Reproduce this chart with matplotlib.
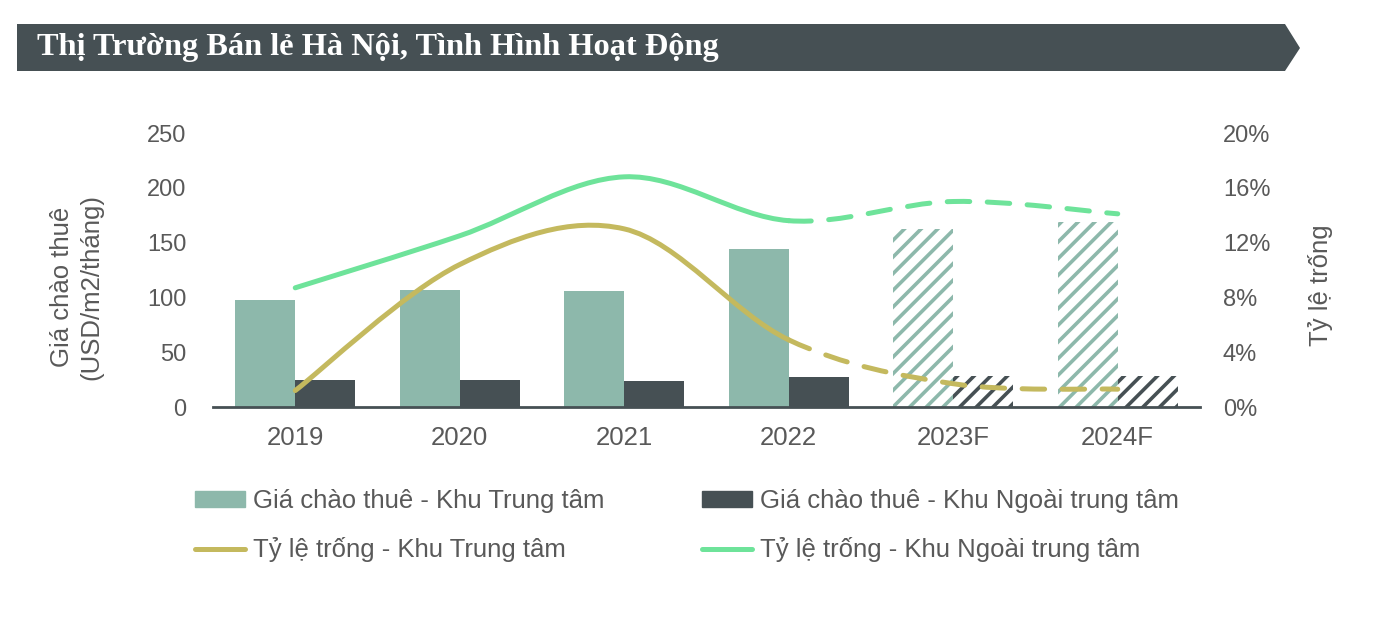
import matplotlib
matplotlib.use('Agg')
import matplotlib.pyplot as plt
import numpy as np
from matplotlib.path import Path
from matplotlib.patches import PathPatch, Polygon, Patch
from matplotlib.lines import Line2D

years = ['2019', '2020', '2021', '2022', '2023F', '2024F']
rent_cbd = [98, 107, 106, 144, 162, 169]
rent_non_cbd = [25, 25, 24, 27, 28, 28]
vacancy_cbd = [1.2, 10.4, 13.0, 4.9, 1.7, 1.3]
vacancy_non_cbd = [8.7, 12.5, 16.8, 13.6, 15.0, 14.1]
n_actual = 4  # first forecast year index

c_cbd = '#8db8ab'
c_out = '#465054'
c_gold = '#c4b95e'
c_green = '#6ee39a'
c_text = '#595959'

plt.rcParams['font.family'] = ['Liberation Sans', 'DejaVu Sans']
plt.rcParams['hatch.linewidth'] = 2.6

fig = plt.figure(figsize=(13.78, 6.4), dpi=100)
W, H = 1378, 640

# title banner
banner = Polygon([(17 / W, 1 - 24 / H), (1285 / W, 1 - 24 / H), (1300 / W, 1 - 48 / H),
                  (1285 / W, 1 - 71 / H), (17 / W, 1 - 71 / H)],
                 closed=True, transform=fig.transFigure, facecolor=c_out, edgecolor='none')
fig.patches.append(banner)
fig.text(37 / W, 1 - 48 / H, 'Thị Trường Bán lẻ Hà Nội, Tình Hình Hoạt Động',
         family=['Liberation Serif', 'DejaVu Serif'], weight='bold', fontsize=23.3,
         color='white', va='center', ha='left')

ax = fig.add_axes([213 / W, 1 - 407 / H, 987 / W, 274 / H])
ax2 = ax.twinx()

x = np.arange(len(years))
w = 0.365
for i in x:
    if i < n_actual:
        ax.bar(i - w / 2, rent_cbd[i], w, color=c_cbd)
        ax.bar(i + w / 2, rent_non_cbd[i], w, color=c_out)
    else:
        ax.bar(i - w / 2, rent_cbd[i], w, color='white', edgecolor=c_cbd, hatch='//', linewidth=0)
        ax.bar(i + w / 2, rent_non_cbd[i], w, color='white', edgecolor=c_out, hatch='//', linewidth=0)

ax.set_xlim(-0.5, len(years) - 0.5)
ax.set_ylim(0, 250)
ax.set_yticks(range(0, 251, 50))
ax.set_xticks(x)
ax.set_xticklabels(years)
for a in (ax, ax2):
    for s in a.spines.values():
        s.set_visible(False)
ax.spines['bottom'].set_visible(True)
ax.spines['bottom'].set_color(c_out)
ax.spines['bottom'].set_linewidth(2)
ax.tick_params(axis='y', length=0, pad=19, labelsize=17, labelcolor=c_text)
ax.tick_params(axis='x', length=0, pad=14, labelsize=18.5, labelcolor=c_text)
ax.set_ylabel('Giá chào thuê\n(USD/m2/tháng)', fontsize=18.5, color=c_text, linespacing=1.3)
ax.yaxis.set_label_coords(-0.111, 0.438)

ax2.set_ylim(0, 20)
ax2.set_yticks(range(0, 21, 4))
ax2.set_yticklabels([f'{v}%' for v in range(0, 21, 4)])
ax2.tick_params(axis='y', length=0, pad=16.5, labelsize=17, labelcolor=c_text)
ax2.set_ylabel('Tỷ lệ trống', fontsize=18.5, color=c_text)
ax2.yaxis.set_label_coords(1.109, 0.445)


def smooth_segments(xs, ys):
    # Excel-like smoothing: cubic Bezier with Catmull-Rom control points
    pts = list(zip(xs, ys))
    segs = []
    for k in range(len(pts) - 1):
        p0 = pts[k - 1] if k > 0 else pts[k]
        p1 = pts[k]
        p2 = pts[k + 1]
        p3 = pts[k + 2] if k + 2 < len(pts) else pts[k + 1]
        c1 = (p1[0] + (p2[0] - p0[0]) / 6, p1[1] + (p2[1] - p0[1]) / 6)
        c2 = (p2[0] - (p3[0] - p1[0]) / 6, p2[1] - (p3[1] - p1[1]) / 6)
        segs.append((p1, c1, c2, p2))
    return segs


def draw_curve(a, ys, color):
    segs = smooth_segments(list(x), ys)
    for part, ls in ((segs[:n_actual - 1], '-'), (segs[n_actual - 1:], (0, (4.5, 3.5)))):
        verts, codes = [part[0][0]], [Path.MOVETO]
        for s in part:
            verts += [s[1], s[2], s[3]]
            codes += [Path.CURVE4] * 3
        a.add_patch(PathPatch(Path(verts, codes), fill=False, edgecolor=color,
                              linewidth=3.6, linestyle=ls, capstyle='round', joinstyle='round'))


draw_curve(ax2, vacancy_cbd, c_gold)
draw_curve(ax2, vacancy_non_cbd, c_green)

handles = [Patch(color=c_cbd), Line2D([], [], color=c_gold, lw=3.6, solid_capstyle='round'),
           Patch(color=c_out), Line2D([], [], color=c_green, lw=3.6, solid_capstyle='round')]
labels = ['Giá chào thuê - Khu Trung tâm', 'Tỷ lệ trống - Khu Trung tâm',
          'Giá chào thuê - Khu Ngoài trung tâm', 'Tỷ lệ trống - Khu Ngoài trung tâm']
fig.legend(handles, labels, ncol=2, loc='upper left', bbox_to_anchor=(195 / W, 1 - 489 / H),
           frameon=False, fontsize=18.5, labelcolor=c_text, handlelength=1.95,
           handleheight=0.55, handletextpad=0.3, columnspacing=3.8, labelspacing=0.95,
           borderpad=0, borderaxespad=0)

fig.savefig('out.png', dpi=100)
